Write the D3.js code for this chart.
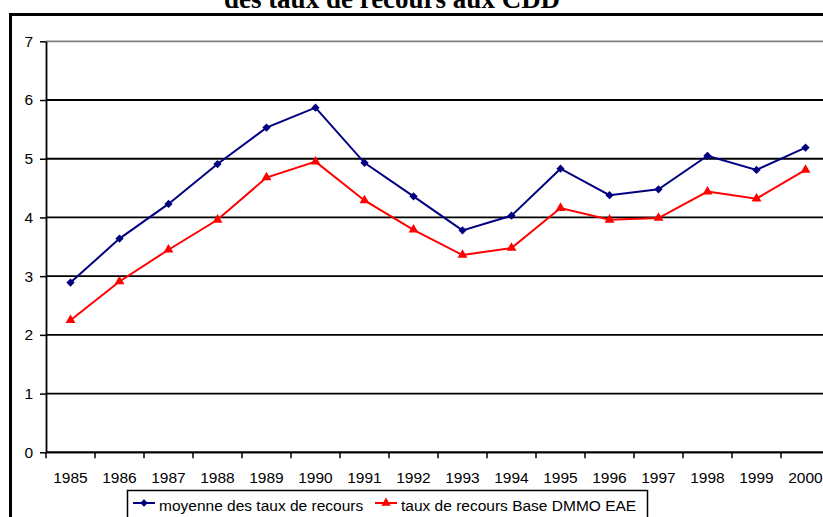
<!DOCTYPE html>
<html>
<head>
<script src="https://d3js.org/d3.v7.min.js" charset="utf-8"></script>
<style>
  body { margin: 0; background: #fff; }
  svg { display: block; }
</style>
</head>
<body>
<svg id="chart" width="823" height="517"></svg>
<script>
    // data
    var years = ["1985","1986","1987","1988","1989","1990","1991","1992",
                 "1993","1994","1995","1996","1997","1998","1999","2000"];
    var moyenne = [2.89, 3.64, 4.23, 4.91, 5.53, 5.87, 4.93, 4.36,
                   3.78, 4.03, 4.83, 4.38, 4.48, 5.05, 4.81, 5.19];
    var dmmo = [2.25, 2.91, 3.45, 3.96, 4.68, 4.95, 4.29, 3.79,
                3.36, 3.48, 4.16, 3.96, 3.99, 4.44, 4.32, 4.81];
    var yTicks = [0, 1, 2, 3, 4, 5, 6, 7];
    var seriesNames = ["moyenne des taux de recours", "taux de recours Base DMMO EAE"];

    var svg = d3.select('#chart'),
        plotLeft = 46, plotTop = 41.3, plotBottom = 452.3, band = 49,
        font = '"Liberation Sans", Arial, sans-serif';

    var x = d3.scaleBand().domain(years).range([plotLeft, plotLeft + band * years.length]).padding(0),
        y = d3.scaleLinear().domain([0, 7]).range([plotBottom, plotTop]);
    var plotRight = x.range()[1];

    // title (cut off at the top, as in the source)
    svg.append('text')
        .attr('x', 392).attr('y', 8)
        .attr('text-anchor', 'middle')
        .style('font-family', '"Liberation Serif", "Times New Roman", serif')
        .style('font-weight', 'bold')
        .style('font-size', '27px')
        .text('des taux de recours aux CDD');

    // outer frame
    svg.append('rect')
        .attr('x', 10.5).attr('y', 14.5)
        .attr('width', 900).attr('height', 600)
        .attr('fill', 'none').attr('stroke', '#000').attr('stroke-width', 3);

    // gridlines
    svg.append('g').selectAll('line')
        .data(yTicks)
        .enter().append('line')
        .attr('x1', plotLeft).attr('x2', plotRight)
        .attr('y1', function(d) { return y(d); })
        .attr('y2', function(d) { return y(d); })
        .attr('stroke', function(d) { return d == 7 ? '#808080' : '#000'; })
        .attr('stroke-width', 1.8);

    // y axis
    var yAxis = d3.axisLeft(y).tickValues(yTicks).tickFormat(d3.format('d'))
        .tickSize(6).tickSizeOuter(0).tickPadding(7);
    var gy = svg.append('g').attr('transform', 'translate(' + plotLeft + ',0)').call(yAxis);
    gy.select('.domain').attr('stroke', '#000').attr('stroke-width', 1.8);
    gy.selectAll('.tick line').attr('stroke', '#000').attr('stroke-width', 1.5);
    gy.selectAll('text')
        .style('font-family', font)
        .style('font-size', '15.5px').attr('fill', '#000');

    // x axis: ticks between categories, labels centred
    var gx = svg.append('g').attr('transform', 'translate(0,' + plotBottom + ')');
    gx.append('line')
        .attr('x1', plotLeft).attr('x2', plotRight)
        .attr('stroke', '#000').attr('stroke-width', 1.8);
    gx.selectAll('.tk')
        .data(years)
        .enter().append('line')
        .attr('class', 'tk')
        .attr('x1', function(d) { return x(d); })
        .attr('x2', function(d) { return x(d); })
        .attr('y1', 0).attr('y2', 6)
        .attr('stroke', '#000').attr('stroke-width', 1.5);
    gx.selectAll('text')
        .data(years)
        .enter().append('text')
        .attr('x', function(d) { return x(d) + x.bandwidth() / 2; })
        .attr('y', 31)
        .attr('text-anchor', 'middle')
        .style('font-family', font)
        .style('font-size', '15.5px')
        .text(function(d) { return d; });

    var cx = function(d, i) { return x(years[i]) + x.bandwidth() / 2; };
    var line = d3.line().x(cx).y(function(d) { return y(d); });

    // diamond = square turned 45 degrees (d3's own diamond is too thin)
    function marker(sel, kind, size) {
        if (kind == 'diamond') {
            sel.attr('d', d3.symbol().type(d3.symbolSquare).size(size))
               .attr('transform', function() { return d3.select(this).attr('transform') + ' rotate(45)'; });
        } else {
            sel.attr('d', d3.symbol().type(d3.symbolTriangle).size(size));
        }
    }

    function drawSeries(values, color, kind) {
        svg.append('path')
            .datum(values)
            .attr('d', line)
            .attr('fill', 'none')
            .attr('stroke', color)
            .attr('stroke-width', 2);
        svg.append('g').selectAll('path')
            .data(values)
            .enter().append('path')
            .attr('transform', function(d, i) { return 'translate(' + cx(d, i) + ',' + y(d) + ')'; })
            .attr('fill', color)
            .call(marker, kind, kind == 'diamond' ? 34 : 42);
    }
    drawSeries(moyenne, '#000080', 'diamond');
    drawSeries(dmmo, '#ff0000', 'triangle');

    // legend
    var lg = svg.append('g');
    lg.append('rect')
        .attr('x', 127.5).attr('y', 490.5)
        .attr('width', 520).attr('height', 40)
        .attr('fill', '#fff').attr('stroke', '#000').attr('stroke-width', 1.5);
    var items = [
        { name: seriesNames[0], color: '#000080', kind: 'diamond', x0: 133 },
        { name: seriesNames[1], color: '#ff0000', kind: 'triangle', x0: 375 }
    ];
    items.forEach(function(it) {
        lg.append('line')
            .attr('x1', it.x0).attr('x2', it.x0 + 22)
            .attr('y1', 503).attr('y2', 503)
            .attr('stroke', it.color).attr('stroke-width', 2);
        lg.append('path')
            .attr('transform', 'translate(' + (it.x0 + 11) + ',503)')
            .attr('fill', it.color)
            .call(marker, it.kind, it.kind == 'diamond' ? 30 : 38);
        lg.append('text')
            .attr('x', it.x0 + 26).attr('y', 511)
            .style('font-family', font)
            .style('font-size', '15.5px')
            .text(it.name);
    });
</script>
</body>
</html>
